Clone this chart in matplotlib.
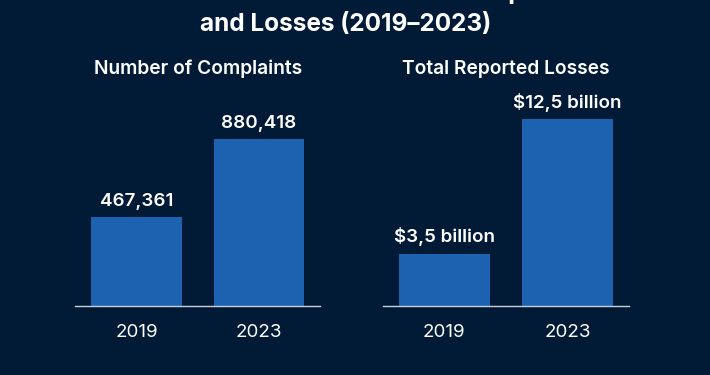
import matplotlib.pyplot as plt

years = ["2019", "2023"]
complaints = [467361, 880418]
complaint_labels = ["467,361", "880,418"]
losses = [3.5, 12.5]
loss_labels = ["$3,5 billion", "$12,5 billion"]

bg = "#011a36"
bar_color = "#1c62b1"

plt.rcParams['font.family'] = ['Inter', 'DejaVu Sans']

fig = plt.figure(figsize=(7.1, 3.75), dpi=100)
fig.patch.set_facecolor(bg)

# title (first line runs off the top of the picture, only a descender shows)
fig.text(0.52, 1 + 1 / 375, "Rise in FBI Internet Crime Complaints", ha="center", va="baseline",
         color="white", fontsize=17.5, fontweight="bold")
fig.text(0.487, 1 - 31 / 375, "and Losses (2019\u20132023)", ha="center", va="baseline",
         color="white", fontsize=17.5, fontweight="bold")

panels = [
    ([0.106, 0.184, 0.345, 0.549], complaints, complaint_labels, 1.086e6, "Number of Complaints"),
    ([0.539, 0.184, 0.347, 0.549], losses, loss_labels, 13.77, "Total Reported Losses"),
]

for rect, vals, labels, top, name in panels:
    ax = fig.add_axes(rect)
    ax.set_facecolor(bg)
    x = range(len(years))
    ax.bar(x, vals, width=0.74, color=bar_color)
    for xi, v, lab in zip(x, vals, labels):
        ax.text(xi, v + top * 0.035, lab, ha="center", va="bottom", color="white",
                fontsize=13.5, fontweight="semibold")
    ax.set_xlim(-0.5, 1.5)
    ax.set_ylim(0, top)
    ax.set_xticks(list(x))
    ax.set_xticklabels(years, color="white", fontsize=13.5)
    ax.tick_params(axis="x", length=0, pad=13)
    ax.set_yticks([])
    for s in ["top", "right", "left"]:
        ax.spines[s].set_visible(False)
    ax.spines["bottom"].set_color("#c9d0da")
    ax.spines["bottom"].set_linewidth(1.0)
    cx = rect[0] + rect[2] / 2
    fig.text(cx, 1 - 69 / 375, name, ha="center", va="center", color="white",
             fontsize=13.8, fontweight="semibold")

fig.savefig("out.png", dpi=100, facecolor=bg)
